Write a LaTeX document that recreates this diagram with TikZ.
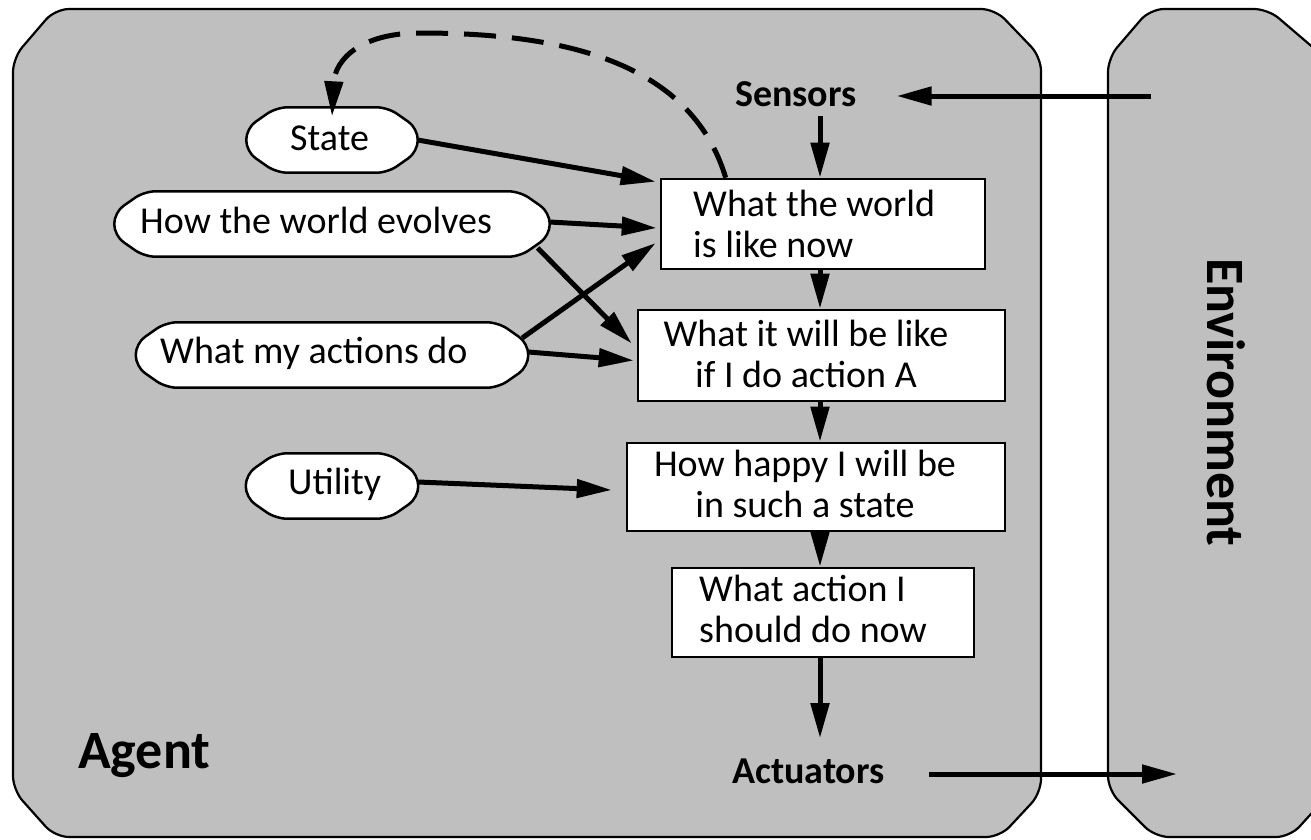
\documentclass[tikz,border=0pt]{standalone}
\usepackage{fontspec}
\setmainfont{Carlito}
\usetikzlibrary{arrows.meta,calc}
\definecolor{panel}{RGB}{191,191,191}
\begin{document}
\begin{tikzpicture}[x=1pt,y=-1pt,
  panelshape/.style={fill=panel,draw=black,line width=2.2pt,rounded corners=14pt},
  ovalspace/.style={rectangle,draw=none,minimum height=65pt,inner sep=0pt},
  ovalline/.style={draw=black,fill=white,line width=2.5pt,rounded corners=11pt},
  stepbox/.style={rectangle,draw,fill=white,line width=2.6pt,inner sep=0pt},
  txt/.style={font=\fontsize{38}{41}\selectfont,inner sep=0pt},
  lbl/.style={font=\fontsize{38}{41}\selectfont\bfseries,inner sep=0pt},
  big/.style={font=\fontsize{54}{60}\selectfont\bfseries,inner sep=0pt},
  arr/.style={line width=5pt,-{Triangle[length=35pt,width=18pt]}},
  dasharr/.style={arr,dash pattern=on 32pt off 16pt},
]
\useasboundingbox (0,0) rectangle (1311,839);
\begin{scope}
\clip (0,0) rectangle (1311,839);
% agent panel
\draw[panelshape] (13,58) -- (55,9) -- (995,9) -- (1041,57) -- (1041,793) -- (1000,837) -- (55,837) -- (13,790) -- cycle;
% environment panel
\draw[panelshape] (1108,58) -- (1150,9) -- (1268,9) -- (1330,62) -- (1330,793) -- (1290,837) -- (1155,837) -- (1108,790) -- cycle;
\end{scope}

% oval areas
\node[ovalspace,minimum width=171pt] (st) at (332,140) {};
\node[ovalspace,minimum width=435pt] (ev) at (332,224) {};
\node[ovalspace,minimum width=392pt] (ac) at (332,355) {};
\node[ovalspace,minimum width=172pt] (ut) at (332,486) {};
\foreach \n in {st,ev,ac,ut}{
  \draw[ovalline] ($(\n.north west)+(30,0)$) -- ($(\n.north east)+(-30,0)$)
    -- ($(\n.north east)+(0,21)$) -- ($(\n.south east)+(0,-21)$)
    -- ($(\n.south east)+(-30,0)$) -- ($(\n.south west)+(30,0)$)
    -- ($(\n.south west)+(0,-21)$) -- ($(\n.north west)+(0,21)$) -- cycle;
}
\node[txt,anchor=base west] (stt) at (290,150) {State};
\node[txt,anchor=base west] (evt) at (140,233) {How the world evolves};
\node[txt,anchor=base west] (act) at (160,363) {What my actions do};
\node[txt,anchor=base west] (utt) at (288,494) {Utility};

% boxes
\node[stepbox,minimum width=324pt,minimum height=90pt] (b1) at (823,224) {};
\node[stepbox,minimum width=367pt,minimum height=91pt] (b2) at (821.5,355.5) {};
\node[stepbox,minimum width=378pt,minimum height=88pt] (b3) at (816,487) {};
\node[stepbox,minimum width=302pt,minimum height=89pt] (b4) at (823,612.5) {};
\node[txt,align=left,anchor=west] (b1t) at (693,224) {What the world\\is like now};
\node[txt,align=center] (b2t) at (806,354) {What it will be like\\if I do action A};
\node[txt,align=center] (b3t) at (805,484) {How happy I will be\\in such a state};
\node[txt,align=left,anchor=west] (b4t) at (699,609) {What action I\\should do now};

% labels
\node[lbl,anchor=base west] (sens) at (735,106) {Sensors};
\node[lbl,anchor=base west] (actu) at (732,783) {Actuators};
\node[big,anchor=base west] (agent) at (78,768) {Agent};
\node[big,anchor=base west,rotate=-90] (env) at (1207,258) {Environment};

\coordinate (cx) at (820,0);
\coordinate (envin) at (1151,96);
\coordinate (envout) at (1177,774);

% vertical chain
\draw[arr] ($(sens.south -| cx)+(0,10)$) -- (b1.north -| cx);
\draw[arr] (b1.south -| cx) -- (b2.north -| cx);
\draw[arr] (b2.south -| cx) -- (b3.north -| cx);
\draw[arr] (b3.south -| cx) -- (b4.north -| cx);
\draw[arr] (b4.south -| cx) -- ($(actu.north -| cx)+(0,-20)$);

% sensors / actuators with environment
\draw[arr] (envin) -- ($(sens.east |- envin)+(40,0)$);
\draw[arr] ($(actu.east |- envout)+(44,0)$) -- (envout);

% model inputs
\draw[arr] (st.east) -- ([shift={(-4,4)}]b1.north west);
\draw[arr] ([yshift=2]ev.east) -- ([shift={(-3,4)}]b1.west);
\draw[arr] ([shift={(-12,24)}]ev.east) -- ([shift={(-5,-12)}]b2.west);
\draw[arr] ([shift={(-6,-17)}]ac.east) -- ([shift={(-4,19)}]b1.west);
\draw[arr] ([yshift=3]ac.east) -- ([shift={(-3,5)}]b2.west);
\draw[arr] ([yshift=4]ut.east) -- ([shift={(-14,3)}]b3.west);

% dashed feedback
\draw[dasharr] ([xshift=66]b1.north west) .. controls (690,60) and (560,33) .. (420,33) .. controls (360,33) and (335,60) .. ([yshift=-9]st.north);
\end{tikzpicture}
\end{document}
